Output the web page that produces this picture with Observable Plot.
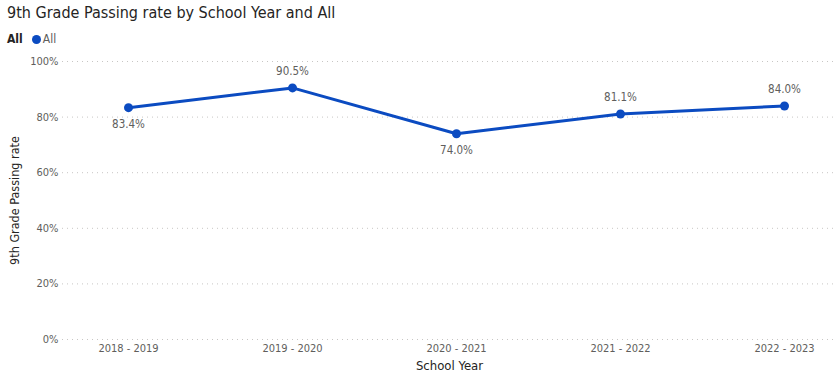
<!DOCTYPE html>
<html>
<head>
<meta charset="utf-8">
<script src="https://cdn.jsdelivr.net/npm/d3@7"></script>
<script src="https://cdn.jsdelivr.net/npm/@observablehq/plot@0.6"></script>
<style>
  html, body { margin: 0; padding: 0; background: #fff; }
  body { width: 836px; height: 386px; overflow: hidden; font-family: "DejaVu Sans Condensed", Roboto, sans-serif; }
  #title { position: absolute; left: 7px; top: 3px; font-size: 16px; color: #252423; white-space: nowrap; }
  #legend { position: absolute; left: 7px; top: 32px; font-size: 12px; color: #605E5C; display: flex; align-items: center; }
  #legend b { color: #252423; margin-right: 9px; }
  #legend .dot { width: 9px; height: 9px; border-radius: 50%; background: #0b4bc1; margin-right: 2px; }
  #chart { position: absolute; left: 0; top: 50px; }
</style>
</head>
<body>
<div id="title">9th Grade Passing rate by School Year and All</div>
<div id="legend"><b>All</b><span class="dot"></span><span>All</span></div>
<div id="chart"></div>
<script>
const years = ["2018 - 2019", "2019 - 2020", "2020 - 2021", "2021 - 2022", "2022 - 2023"];
const passingRate = [83.4, 90.5, 74.0, 81.1, 84.0];
const yTicks = [0, 20, 40, 60, 80, 100];

const data = years.map((y, i) => {
  const v = passingRate[i];
  const prev = i > 0 ? passingRate[i - 1] : Infinity;
  const next = i < passingRate.length - 1 ? passingRate[i + 1] : Infinity;
  return { year: y, value: v, below: v < prev && v < next };
});

const blue = "#0b4bc1";
const font = "DejaVu Sans Condensed, Roboto, sans-serif";
const fmt = d => d.value.toFixed(1) + "%";

const chart = Plot.plot({
  width: 836,
  height: 336,
  marginLeft: 62,
  marginRight: 0,
  marginTop: 11,
  marginBottom: 47,
  style: { fontFamily: font, fontSize: "11px", color: "#605E5C", background: "transparent" },
  x: { type: "point", domain: years, padding: 0.353, align: 0.56, label: null },
  y: { domain: [0, 100], label: null },
  marks: [
    Plot.ruleY(yTicks, { stroke: "#c8c6c4", strokeDasharray: "1,4", strokeWidth: 1 }),
    Plot.axisY(yTicks, { tickSize: 0, tickPadding: 4, tickFormat: d => d + "%", fill: "#605E5C", fontSize: 11 }),
    Plot.axisX({ tickSize: 0, tickPadding: 5, fill: "#605E5C", fontSize: 11 }),
    Plot.text(["School Year"], { frameAnchor: "bottom", dy: 30, fill: "#252423", fontSize: 13 }),
    Plot.text(["9th Grade Passing rate"], { frameAnchor: "left", textAnchor: "middle", rotate: -90, dx: -48, fill: "#252423", fontSize: 12.5 }),
    Plot.line(data, { x: "year", y: "value", stroke: blue, strokeWidth: 3 }),
    Plot.dot(data, { x: "year", y: "value", fill: blue, r: 4.5 }),
    Plot.text(data.filter(d => !d.below), { x: "year", y: "value", text: fmt, dy: -17, fill: "#605E5C", fontSize: 11.5 }),
    Plot.text(data.filter(d => d.below), { x: "year", y: "value", text: fmt, dy: 17, fill: "#605E5C", fontSize: 11.5 })
  ]
});

document.getElementById("chart").appendChild(chart);
</script>
</body>
</html>
